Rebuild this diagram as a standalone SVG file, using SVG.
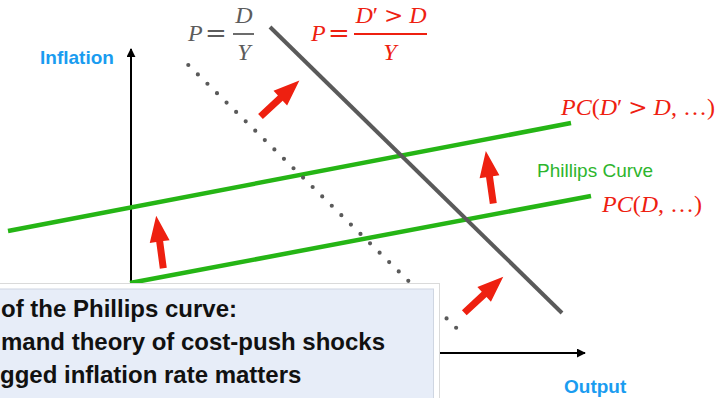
<svg xmlns="http://www.w3.org/2000/svg" width="716" height="398" viewBox="0 0 716 398">
<style>
.mi{font-family:"Liberation Serif","Times New Roman",serif;font-style:italic;font-size:24px}
.up{font-style:normal}
.mo{font-family:"DejaVu Serif",serif;font-style:normal;font-size:26px}
.rel{font-family:"DejaVu Serif",serif;font-style:normal;font-size:23px}
.gray{fill:#5c5c5c}
.red{fill:#ee2010}
.axislbl{font-family:"Liberation Sans",Arial,sans-serif;font-weight:bold;font-size:19px;fill:#1a9cf0}
.note{font-family:"Liberation Sans",Arial,sans-serif;font-weight:bold;font-size:24px;fill:#111}
.axis{stroke:#000;stroke-width:2;fill:none}
.pc{stroke:#25b515;stroke-width:4.5;fill:none;stroke-linecap:butt}
.ad{stroke:#5a5a5a;stroke-width:4;fill:none}
.dots{stroke:#5a5a5a;stroke-width:4.2;fill:none;stroke-linecap:round;stroke-dasharray:0 13.4}
</style>
<defs>
<marker id="ah" viewBox="0 0 10 10" refX="9" refY="5" markerWidth="9" markerHeight="9" markerUnits="userSpaceOnUse" orient="auto">
<path d="M0,0 L10,5 L0,10 Z" fill="#000"/>
</marker>
<path id="redArrow" d="M0,-3.5 L27,-3.5 L27,-10 L53,0 L27,10 L27,3.5 L0,3.5 Z" fill="#ee2010"/>
</defs>

<g id="connectors">
<line class="axis" x1="131" y1="353" x2="131" y2="49" marker-end="url(#ah)"/>
<line class="axis" x1="131" y1="353" x2="585" y2="353" marker-end="url(#ah)"/>
<line class="pc" x1="8" y1="231" x2="571" y2="123"/>
<line class="pc" x1="130" y1="283" x2="591" y2="196"/>
<line class="ad" x1="270" y1="27" x2="562" y2="313"/>
<line class="dots" x1="188.3" y1="65" x2="463.5" y2="335"/>
<use href="#redArrow" transform="translate(260.5,116.5) rotate(-42.8)"/>
<use href="#redArrow" transform="translate(493.3,203.5) rotate(-98.1)"/>
<use href="#redArrow" transform="translate(163.3,268.3) rotate(-97.7)"/>
<use href="#redArrow" transform="translate(464.3,312.7) rotate(-42.7)"/>
</g>

<g id="formula-base" class="gray">
<text class="mi" x="188" y="41">P</text>
<text class="mo" x="205" y="42">=</text>
<line x1="233" y1="34" x2="254" y2="34" stroke="#5c5c5c" stroke-width="1.8"/>
<text class="mi" x="244" y="23" text-anchor="middle">D</text>
<text class="mi" x="244" y="60" text-anchor="middle">Y</text>
</g>

<g id="formula-shift" class="red">
<text class="mi" x="311" y="41">P</text>
<text class="mo" x="328" y="42">=</text>
<line x1="354" y1="34" x2="427" y2="34" stroke="#ee2010" stroke-width="2"/>
<text class="mi" x="391" y="23" text-anchor="middle">D<tspan class="up">′ </tspan><tspan class="rel">&gt;</tspan><tspan class="up"> </tspan>D</text>
<text class="mi" x="390" y="60" text-anchor="middle">Y</text>
</g>

<g id="label-inflation"><text class="axislbl" x="40" y="64">Inflation</text></g>
<g id="label-output"><text class="axislbl" x="564" y="393">Output</text></g>

<g id="pc-shifted" class="red">
<text class="mi" x="561" y="115">PC<tspan class="up">(</tspan>D<tspan class="up">′ </tspan><tspan class="rel">&gt;</tspan><tspan class="up"> </tspan>D<tspan class="up">, …)</tspan></text>
</g>

<g id="phillips-label">
<text x="537" y="177" style="font-family:'Liberation Sans',Arial,sans-serif;font-size:19px;fill:#2db52d">Phillips Curve</text>
</g>

<g id="pc-base" class="red">
<text class="mi" x="602" y="212">PC<tspan class="up">(</tspan>D<tspan class="up">, …)</tspan></text>
</g>

<g id="note-box">
<rect x="-20" y="283.5" width="459.5" height="130" fill="#fff" stroke="#dadada" stroke-width="1"/>
<rect x="-20" y="289" width="453.5" height="130" fill="#e7edf8" stroke="#cfd6e2" stroke-width="1"/>
<text class="note" x="1" y="317">of the Phillips curve:</text>
<text class="note" x="1" y="350">mand theory of cost-push shocks</text>
<text class="note" x="0" y="383">gged inflation rate matters</text>
</g>
</svg>
